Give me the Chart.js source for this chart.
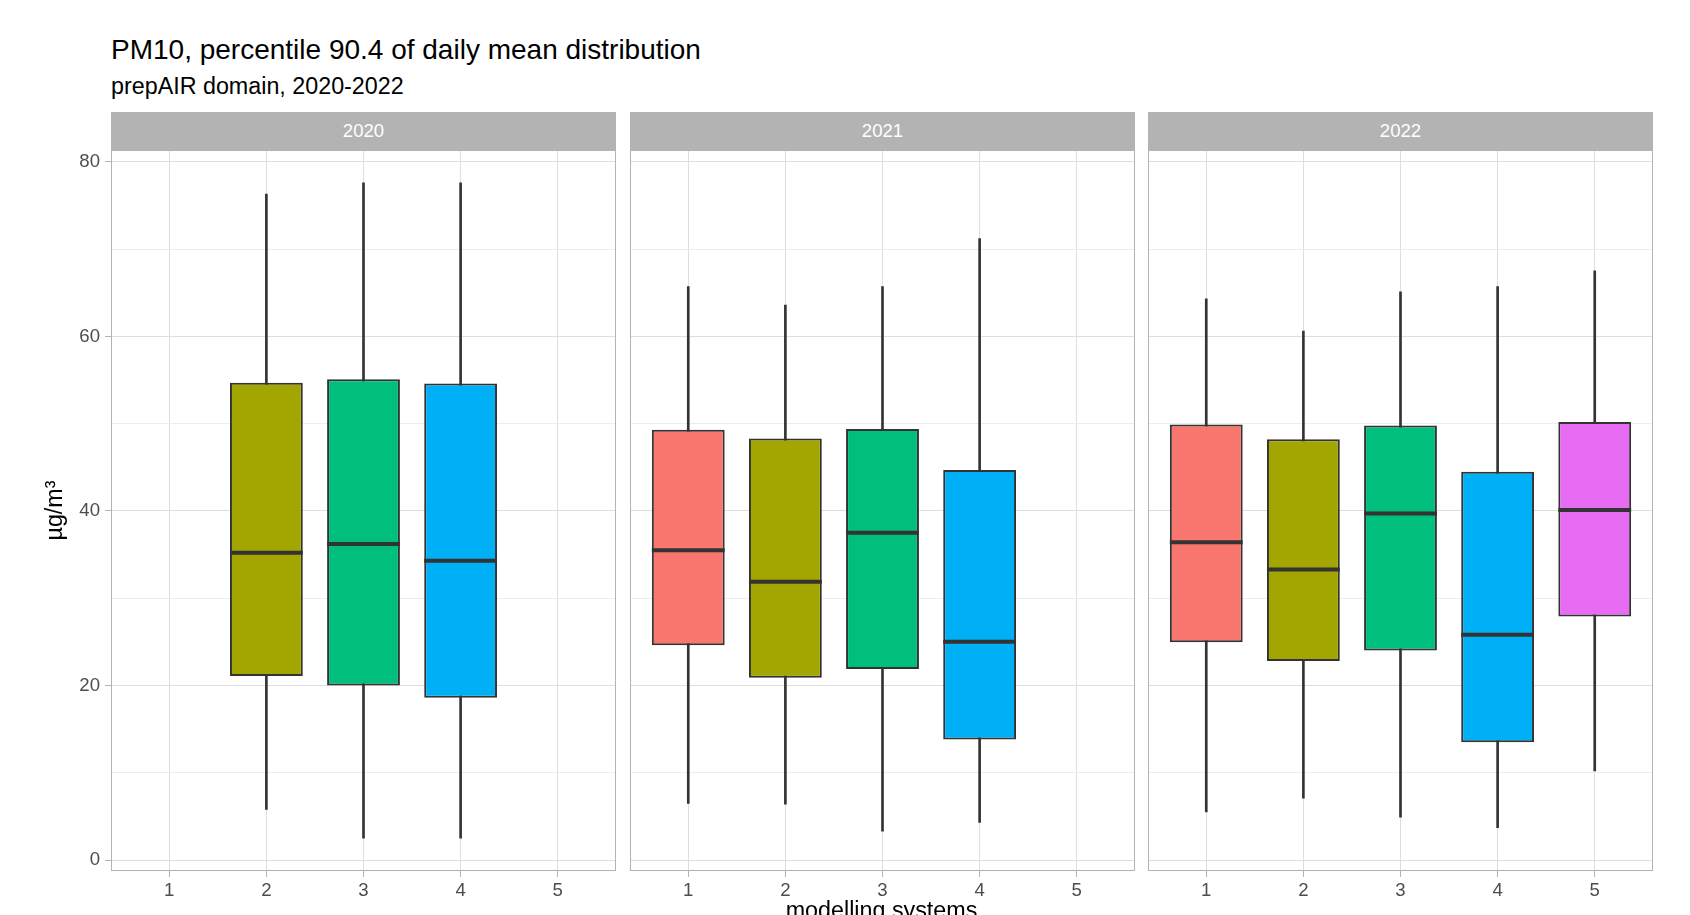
<!DOCTYPE html>
<html>
<head>
<meta charset="utf-8">
<script src="https://cdn.jsdelivr.net/npm/chart.js@4.4.1/dist/chart.umd.min.js"></script>
<style>
  body { margin: 0; background: #fff; width: 1690px; height: 915px; overflow: hidden; position: relative;
         font-family: "Liberation Sans", Arial, sans-serif; }
  .txt { position: absolute; white-space: nowrap; line-height: 1; color: #000; }
  .strip { position: absolute; top: 112px; height: 38px; width: 505px; background: #b3b3b3; color: #fff;
           font-size: 18.6px; line-height: 38px; text-align: center; }
  canvas { position: absolute; top: 150px; }
</style>
</head>
<body>
<div class="txt" style="left:111px; top:36px; font-size:28px;">PM10, percentile 90.4 of daily mean distribution</div>
<div class="txt" style="left:111px; top:75px; font-size:23.3px;">prepAIR domain, 2020-2022</div>

<div class="strip" style="left:111px;">2020</div>
<div class="strip" style="left:630px;">2021</div>
<div class="strip" style="left:1148px;">2022</div>

<canvas id="c2020" width="616" height="765" style="left:0px;"></canvas>
<canvas id="c2021" width="505" height="765" style="left:630px;"></canvas>
<canvas id="c2022" width="505" height="765" style="left:1148px;"></canvas>

<div class="txt" style="left:0; width:1763px; text-align:center; top:899px; font-size:23.3px;">modelling systems</div>

<script>
// categories and ticks
const years = ['2020', '2021', '2022'];
const systems = [1, 2, 3, 4, 5];
const yTicks = [0, 10, 20, 30, 40, 50, 60, 70, 80];
const fillColors = ['#F8766D', '#A3A500', '#00BF7D', '#00B0F6', '#E76BF3'];

// 2020
const sys2020 = [2, 3, 4];
const low2020 = [5.8, 2.5, 2.5];
const q1_2020 = [21.1, 20.0, 18.6];
const med2020 = [35.2, 36.2, 34.3];
const q3_2020 = [54.7, 55.1, 54.6];
const high2020 = [76.3, 77.6, 77.6];

// 2021
const sys2021 = [1, 2, 3, 4];
const low2021 = [6.5, 6.4, 3.3, 4.3];
const q1_2021 = [24.6, 20.9, 21.9, 13.8];
const med2021 = [35.5, 31.9, 37.5, 25.0];
const q3_2021 = [49.3, 48.3, 49.4, 44.7];
const high2021 = [65.7, 63.6, 65.7, 71.2];

// 2022
const sys2022 = [1, 2, 3, 4, 5];
const low2022 = [5.5, 7.1, 4.9, 3.7, 10.2];
const q1_2022 = [24.95, 22.8, 24.0, 13.5, 27.9];
const med2022 = [36.4, 33.3, 39.7, 25.8, 40.1];
const q3_2022 = [49.9, 48.2, 49.8, 44.5, 50.2];
const high2022 = [64.3, 60.6, 65.1, 65.7, 67.5];

const panels = [
  { id: 'c2020', sys: sys2020, low: low2020, q1: q1_2020, med: med2020, q3: q3_2020, high: high2020 },
  { id: 'c2021', sys: sys2021, low: low2021, q1: q1_2021, med: med2021, q3: q3_2021, high: high2021 },
  { id: 'c2022', sys: sys2022, low: low2022, q1: q1_2022, med: med2022, q3: q3_2022, high: high2022 }
];

// ggplot style 5% expansion of the data range
const allLow = Math.min(...low2020, ...low2021, ...low2022);
const allHigh = Math.max(...high2020, ...high2021, ...high2022);
const yMin = allLow - (allHigh - allLow) * 0.05;
const yMax = allHigh + (allHigh - allLow) * 0.05;

Chart.defaults.font.family = '"Liberation Sans", Arial, sans-serif';

const medianPlugin = {
  id: 'medians',
  afterDatasetsDraw(chart, args, opts) {
    const meta = chart.getDatasetMeta(1);
    const yScale = chart.scales.y;
    const ctx = chart.ctx;
    ctx.save();
    ctx.strokeStyle = '#333333';
    ctx.lineWidth = 4;
    meta.data.forEach((bar, i) => {
      const py = yScale.getPixelForValue(opts.values[i]);
      ctx.beginPath();
      ctx.moveTo(bar.x - bar.width / 2, py);
      ctx.lineTo(bar.x + bar.width / 2, py);
      ctx.stroke();
    });
    ctx.restore();
  }
};

const borderPlugin = {
  id: 'panelBorder',
  afterDraw(chart) {
    const a = chart.chartArea;
    const ctx = chart.ctx;
    ctx.save();
    ctx.strokeStyle = '#B3B3B3';
    ctx.lineWidth = 1;
    ctx.strokeRect(a.left + 0.5, a.top + 0.5, a.right - a.left - 1, a.bottom - a.top - 1);
    ctx.restore();
  }
};

panels.forEach((p, k) => {
  const first = k === 0;
  new Chart(document.getElementById(p.id), {
    type: 'bar',
    data: {
      datasets: [
        {
          label: 'whiskers',
          data: p.sys.map((s, i) => ({ x: s, y: [p.low[i], p.high[i]] })),
          backgroundColor: '#333333',
          barThickness: 2,
          grouped: false,
          order: 2
        },
        {
          label: 'boxes',
          data: p.sys.map((s, i) => ({ x: s, y: [p.q1[i], p.q3[i]] })),
          backgroundColor: p.sys.map(s => fillColors[s - 1]),
          borderColor: '#333333',
          borderWidth: 2,
          borderSkipped: false,
          barPercentage: 0.75,
          categoryPercentage: 1,
          grouped: false,
          order: 1
        }
      ]
    },
    options: {
      responsive: false,
      animation: false,
      layout: { padding: 0 },
      plugins: {
        legend: { display: false },
        tooltip: { enabled: false },
        medians: { values: p.med }
      },
      scales: {
        x: {
          type: 'linear',
          min: 0.4,
          max: 5.6,
          offset: false,
          afterBuildTicks: s => { s.ticks = systems.map(v => ({ value: v })); },
          afterFit: s => { s.height = 44; s.paddingLeft = 0; s.paddingRight = 0; },
          border: { display: false },
          grid: { offset: false, color: '#DEDEDE', tickColor: '#B3B3B3', tickLength: 6, lineWidth: 1 },
          ticks: { color: '#4D4D4D', font: { size: 18.6 }, padding: 3, maxRotation: 0 }
        },
        y: {
          min: yMin,
          max: yMax,
          afterBuildTicks: s => { s.ticks = yTicks.map(v => ({ value: v })); },
          afterFit: s => { s.width = first ? 111 : 0; s.paddingTop = 0; s.paddingBottom = 0; },
          border: { display: false },
          grid: {
            drawTicks: first,
            tickLength: 6,
            color: c => (c.tick && c.tick.value % 20 === 0) ? '#DEDEDE' : '#EDEDED',
            tickColor: c => (c.tick && c.tick.value % 20 === 0) ? '#B3B3B3' : 'rgba(0,0,0,0)',
            lineWidth: 1
          },
          ticks: {
            display: first,
            color: '#4D4D4D',
            font: { size: 18.6 },
            padding: 5,
            callback: v => (v % 20 === 0 ? String(v) : '')
          },
          title: {
            display: first,
            text: 'µg/m³',
            color: '#000',
            font: { size: 23.3 },
            padding: { top: 42, bottom: 0 }
          }
        }
      }
    },
    plugins: [medianPlugin, borderPlugin]
  });
});
</script>
</body>
</html>
